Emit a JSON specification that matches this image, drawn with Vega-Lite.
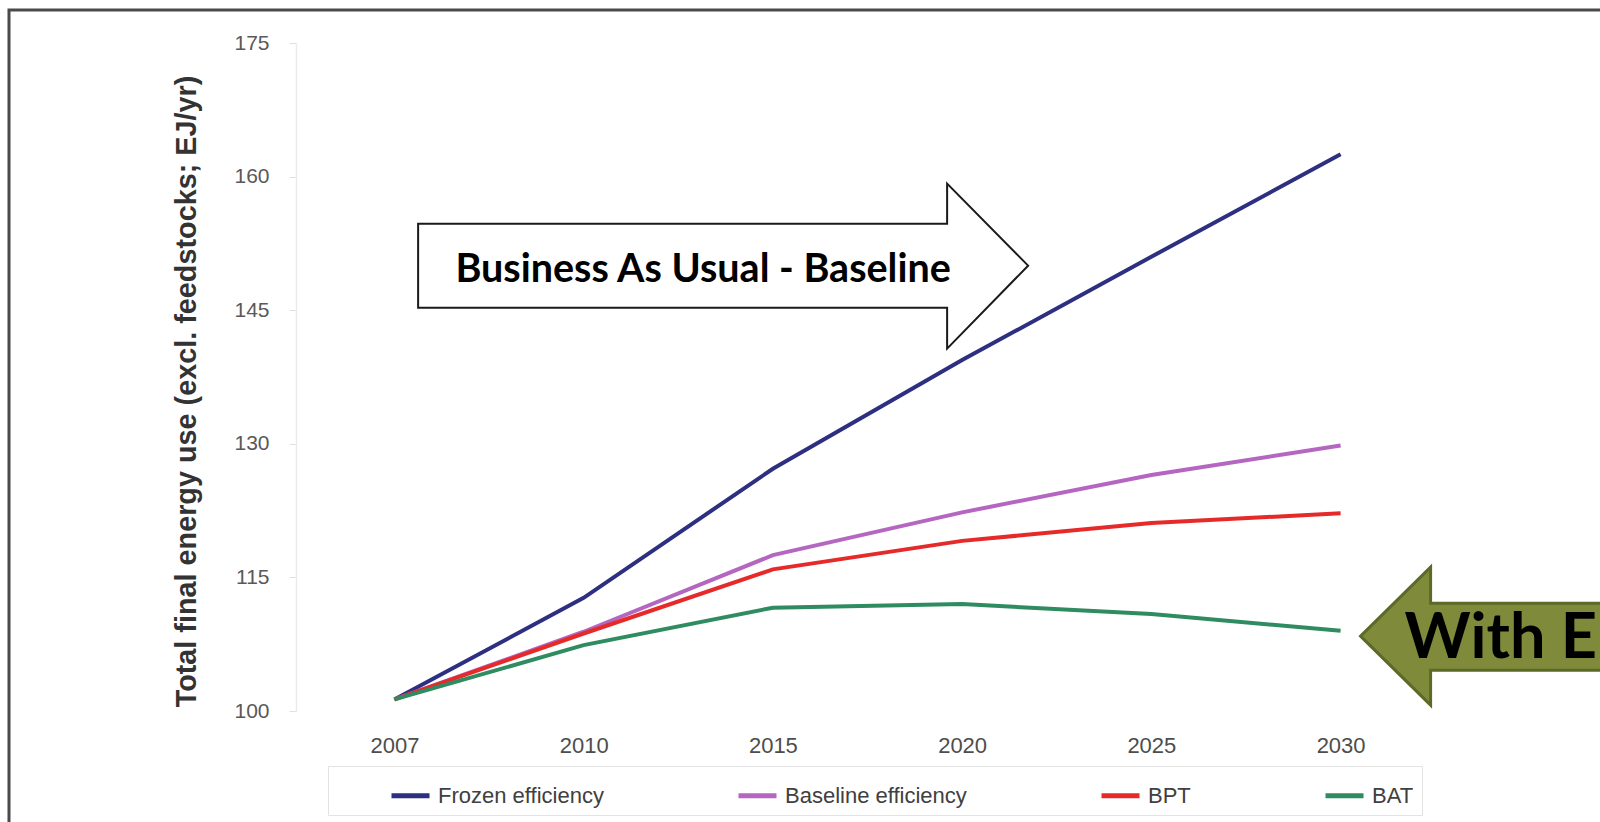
{
  "$schema": "https://vega.github.io/schema/vega-lite/v6.json",
  "autosize": {"type": "none"},
  "width": 1143,
  "height": 668,
  "padding": {"left": 296, "top": 43, "right": 161, "bottom": 111},
  "background": "white",
  "config": {"font": "Liberation Sans", "view": {"stroke": null}},
  "datasets": {
    "energy": [
      {"year": "2007", "scenario": "Frozen efficiency", "value": 101.3},
      {"year": "2010", "scenario": "Frozen efficiency", "value": 112.7},
      {"year": "2015", "scenario": "Frozen efficiency", "value": 127.2},
      {"year": "2020", "scenario": "Frozen efficiency", "value": 139.4},
      {"year": "2025", "scenario": "Frozen efficiency", "value": 151.0},
      {"year": "2030", "scenario": "Frozen efficiency", "value": 162.5},
      {"year": "2007", "scenario": "Baseline efficiency", "value": 101.3},
      {"year": "2010", "scenario": "Baseline efficiency", "value": 108.9},
      {"year": "2015", "scenario": "Baseline efficiency", "value": 117.5},
      {"year": "2020", "scenario": "Baseline efficiency", "value": 122.3},
      {"year": "2025", "scenario": "Baseline efficiency", "value": 126.5},
      {"year": "2030", "scenario": "Baseline efficiency", "value": 129.8},
      {"year": "2007", "scenario": "BPT", "value": 101.3},
      {"year": "2010", "scenario": "BPT", "value": 108.7},
      {"year": "2015", "scenario": "BPT", "value": 115.9},
      {"year": "2020", "scenario": "BPT", "value": 119.1},
      {"year": "2025", "scenario": "BPT", "value": 121.1},
      {"year": "2030", "scenario": "BPT", "value": 122.2},
      {"year": "2007", "scenario": "BAT", "value": 101.3},
      {"year": "2010", "scenario": "BAT", "value": 107.4},
      {"year": "2015", "scenario": "BAT", "value": 111.6},
      {"year": "2020", "scenario": "BAT", "value": 112.0},
      {"year": "2025", "scenario": "BAT", "value": 110.9},
      {"year": "2030", "scenario": "BAT", "value": 109.0}
    ],
    "notes": [
      {"year": "2020", "level": 150.0, "note": "Business As Usual - Baseline", "kind": "bau"},
      {"year": "2030", "level": 108.4, "note": "With E", "kind": "ee"}
    ]
  },
  "layer": [
    {
      "data": {"values": [{"frame": "border"}]},
      "mark": {"type": "rect", "filled": false, "fill": null, "stroke": "#4a4a4a", "strokeWidth": 3},
      "encoding": {
        "x": {"datum": -0.2511, "type": "quantitative", "scale": {"domain": [0, 1]}, "axis": null},
        "x2": {"datum": 1.3},
        "y": {"datum": 1.0494, "type": "quantitative", "scale": {"domain": [0, 1]}, "axis": null},
        "y2": {"datum": -0.3}
      }
    },
    {
      "layer": [
        {
          "data": {"name": "energy"},
          "mark": {"type": "line", "strokeWidth": 4},
          "encoding": {
            "x": {
              "field": "year", "type": "ordinal",
              "scale": {"type": "point", "padding": 0.52, "domain": ["2007", "2010", "2015", "2020", "2025", "2030"]},
              "axis": {"title": null, "labelAngle": 0, "labelFontSize": 22, "labelColor": "#4d4d4d", "domain": false, "ticks": false, "labelPadding": 24, "grid": false}
            },
            "y": {
              "field": "value", "type": "quantitative",
              "scale": {"domain": [100, 175], "nice": false, "zero": false},
              "axis": {
                "title": "Total final energy use (excl. feedstocks; EJ/yr)",
                "titleFontSize": 28.8, "titleFontWeight": "bold", "titleColor": "#333333", "titlePadding": 32, "titleY": 348,
                "values": [100, 115, 130, 145, 160, 175],
                "labelFontSize": 21, "labelColor": "#595959", "labelPadding": 20,
                "tickSize": 7, "tickColor": "#e0e0e0",
                "gridColor": "#e3e3e3", "gridWidth": 2,
                "domainColor": "#ebebeb", "domainWidth": 1.5
              }
            },
            "color": {
              "field": "scenario", "type": "nominal",
              "scale": {"domain": ["Frozen efficiency", "Baseline efficiency", "BPT", "BAT"], "range": ["#2D2F80", "#B466C0", "#E62A2A", "#2E8C60"]},
              "legend": {
                "orient": "none", "legendX": 32, "legendY": 723, "direction": "horizontal", "columns": 4,
                "title": " ", "titleOrient": "left", "titlePadding": 53, "titleFontSize": 10,
                "symbolType": "stroke", "symbolSize": 1444, "symbolStrokeWidth": 5,
                "labelFontSize": 22, "labelColor": "#404040", "labelOffset": 6, "labelLimit": 400,
                "columnPadding": 124, "strokeColor": "#e3e3e3", "padding": 8
              }
            }
          }
        },
        {
          "data": {"name": "notes"},
          "transform": [{"filter": "datum.kind === 'bau'"}],
          "mark": {"type": "point", "shape": "M-544,-42L-15,-42L-15,-82L66,0L-15,83L-15,42L-544,42Z", "size": 4, "filled": true, "fill": "white", "stroke": "#1a1a1a", "strokeWidth": 2, "opacity": 1},
          "encoding": {
            "x": {"field": "year", "type": "ordinal"},
            "y": {"field": "level", "type": "quantitative"}
          }
        },
        {
          "data": {"name": "notes"},
          "transform": [{"filter": "datum.kind === 'bau'"}],
          "mark": {"type": "text", "font": "Lato", "fontWeight": "bold", "fontSize": 39.5, "color": "#000000", "align": "center", "baseline": "middle", "dx": -259, "dy": 4},
          "encoding": {
            "x": {"field": "year", "type": "ordinal"},
            "y": {"field": "level", "type": "quantitative"},
            "text": {"field": "note"}
          }
        },
        {
          "data": {"name": "notes"},
          "transform": [{"filter": "datum.kind === 'ee'"}],
          "mark": {"type": "point", "shape": "M20,0L90,-69L90,-33L330,-33L330,34L90,34L90,69Z", "size": 4, "filled": true, "fill": "#7F8B3B", "stroke": "#5C6A28", "strokeWidth": 3, "opacity": 1},
          "encoding": {
            "x": {"field": "year", "type": "ordinal"},
            "y": {"field": "level", "type": "quantitative"}
          }
        },
        {
          "data": {"name": "notes"},
          "transform": [{"filter": "datum.kind === 'ee'"}],
          "mark": {"type": "text", "font": "Lato", "fontWeight": "bold", "fontSize": 63, "color": "#000000", "align": "left", "baseline": "middle", "dx": 64, "dy": 3},
          "encoding": {
            "x": {"field": "year", "type": "ordinal"},
            "y": {"field": "level", "type": "quantitative"},
            "text": {"field": "note"}
          }
        }
      ]
    }
  ],
  "resolve": {"scale": {"x": "independent", "y": "independent"}}
}
